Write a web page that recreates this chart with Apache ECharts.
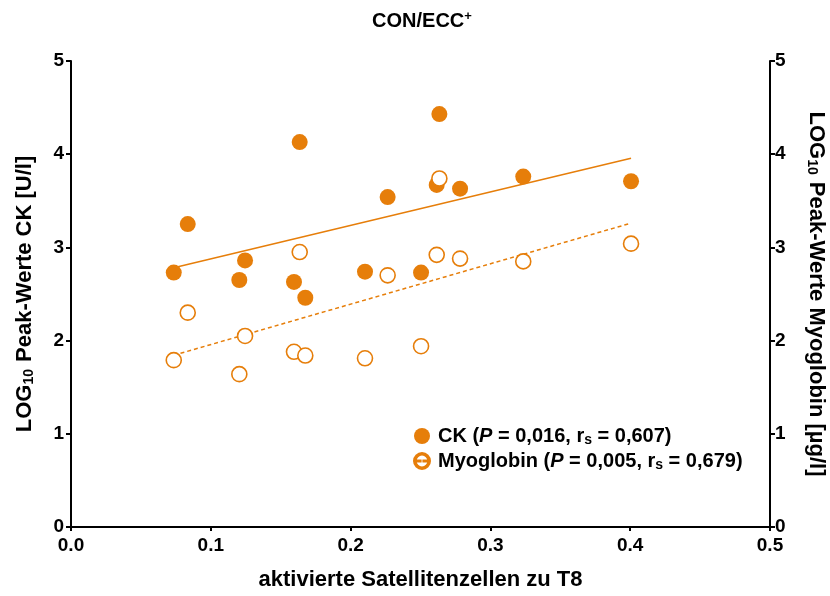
<!DOCTYPE html>
<html><head><meta charset="utf-8">
<script src="https://cdn.jsdelivr.net/npm/echarts@6/dist/echarts.min.js"></script>
<style>html,body{margin:0;padding:0;background:#fff}#c{width:830px;height:596px}</style>
</head><body><div id="c"></div>
<script>
// activated satellite cells at T8 (x)
const xValues = [0.0735,0.0835,0.1245,0.1204,0.1636,0.1595,0.1676,0.2103,0.2265,0.2504,0.2635,0.2616,0.2783,0.3235,0.4006];
// LOG10 peak CK
const ckValues = [2.73,3.25,2.86,2.65,4.13,2.63,2.46,2.74,3.54,2.73,4.43,3.67,3.63,3.76,3.71];
// LOG10 peak myoglobin
const myoValues = [1.79,2.30,2.05,1.64,2.95,1.88,1.84,1.81,2.70,1.94,3.74,2.92,2.88,2.85,3.04];
const xTicks = [0,0.1,0.2,0.3,0.4,0.5];
const yTicks = [0,1,2,3,4,5];
const seriesNames = ['CK','Myoglobin'];
const stats = {CK:['0,016','0,607'], Myoglobin:['0,005','0,679']};

const ORANGE = '#E67E0A';
const FONT = '"Liberation Sans",Arial,Helvetica,sans-serif';

function fit(xs, ys){
  const n = xs.length;
  const mx = xs.reduce((a,b)=>a+b,0)/n, my = ys.reduce((a,b)=>a+b,0)/n;
  let sxy=0, sxx=0;
  for(let i=0;i<n;i++){sxy+=(xs[i]-mx)*(ys[i]-my); sxx+=(xs[i]-mx)**2;}
  const b = sxy/sxx, a = my-b*mx;
  const x0 = Math.min(...xs), x1 = Math.max(...xs);
  return [[x0,a+b*x0],[x1,a+b*x1]];
}
const ckPts = xValues.map((x,i)=>[x,ckValues[i]]);
const myoPts = xValues.map((x,i)=>[x,myoValues[i]]);

const chart = echarts.init(document.getElementById('c'), null, {renderer:'canvas'});
const nameRich = {
  b:{fontWeight:'bold', fontSize:22, color:'#000', fontFamily:FONT},
  sub:{fontWeight:'bold', fontSize:14, color:'#000', padding:[9,1,0,0], fontFamily:FONT}
};
function yAxisCfg(pos, name, rot, margin){
  return {
    type:'value', position:pos, min:yTicks[0], max:yTicks[yTicks.length-1], interval:1,
    splitLine:{show:false},
    axisLine:{show:true, onZero:false, lineStyle:{color:'#000', width:2}},
    axisTick:{show:true, length:5, lineStyle:{color:'#000', width:2}},
    axisLabel:{color:'#000', fontWeight:'bold', fontSize:19, fontFamily:FONT, margin:margin},
    name:name, nameLocation:'middle', nameGap:35, nameRotate:rot,
    nameTextStyle:{color:'#000', fontWeight:'bold', fontSize:22, fontFamily:FONT, rich:nameRich}
  };
}
const richLegend = {
  b:{fontWeight:'bold', fontSize:20, color:'#000', fontFamily:FONT},
  i:{fontWeight:'bold', fontStyle:'italic', fontSize:20, color:'#000', fontFamily:FONT},
  sub:{fontWeight:'bold', fontSize:14, color:'#000', padding:[8,0,0,0], fontFamily:FONT},
  p:{width:3}
};
const ringIcon = 'path://M8,0 A8,8 0 1,1 8,16 A8,8 0 1,1 8,0 Z M8,1.6 A6.4,6.4 0 1,0 8,14.4 A6.4,6.4 0 1,0 8,1.6 Z M3.4,7.4 h3.2 v1.2 h-3.2 Z M9.4,7.4 h3.2 v1.2 h-3.2 Z';
chart.setOption({
  animation:false,
  backgroundColor:'#fff',
  title:{
    text:'{t|CON/ECC}{s|+}', left:417, textAlign:'center', top:5,
    textStyle:{rich:{
      t:{fontWeight:'bold', fontSize:20, color:'#000', fontFamily:FONT},
      s:{fontWeight:'bold', fontSize:13, color:'#000', padding:[0,0,9,0], fontFamily:FONT}}}
  },
  grid:{left:71, right:60, top:61, bottom:69, containLabel:false, outerBoundsMode:'none'},
  legend:{
    orient:'vertical', left:408, top:421, itemGap:4, itemWidth:16, itemHeight:16,
    data:[
      {name:seriesNames[0], icon:'circle', itemStyle:{color:ORANGE}},
      {name:seriesNames[1], icon:ringIcon, itemStyle:{color:ORANGE}}
    ],
    formatter:function(name){
      const s = stats[name];
      return '{p|}{b|'+name+' (}{i|P}{b| = '+s[0]+', r}{sub|s}{b| = '+s[1]+')}';
    },
    textStyle:{rich:richLegend}
  },
  xAxis:{
    type:'value', min:xTicks[0], max:xTicks[xTicks.length-1], interval:0.1,
    splitLine:{show:false},
    axisLine:{show:true, onZero:false, lineStyle:{color:'#000', width:2}},
    axisTick:{show:true, length:4, lineStyle:{color:'#000', width:2}},
    axisLabel:{color:'#000', fontWeight:'bold', fontSize:19, fontFamily:FONT, margin:9, formatter:v=>v.toFixed(1)},
    name:'aktivierte Satellitenzellen zu T8', nameLocation:'middle', nameGap:42,
    nameTextStyle:{color:'#000', fontWeight:'bold', fontSize:22, fontFamily:FONT}
  },
  yAxis:[
    yAxisCfg('left', '{b|LOG}{sub|10}{b| Peak-Werte CK [U/l]}', 90, 7),
    yAxisCfg('right', '{b|LOG}{sub|10}{b| Peak-Werte Myoglobin [µg/l]}', -90, 5)
  ],
  series:[
    {name:seriesNames[0], type:'scatter', yAxisIndex:0, data:ckPts, symbol:'circle', symbolSize:16,
     itemStyle:{color:ORANGE, opacity:1}, z:3},
    {name:seriesNames[1], type:'scatter', yAxisIndex:1, data:myoPts, symbol:'circle', symbolSize:15,
     itemStyle:{color:'#fff', borderColor:ORANGE, borderWidth:1.6, opacity:1}, z:3},
    {name:'CK fit', type:'line', yAxisIndex:0, data:fit(xValues, ckValues), showSymbol:false, symbol:'none',
     lineStyle:{color:ORANGE, width:1.5}, z:2, silent:true},
    {name:'Myo fit', type:'line', yAxisIndex:1, data:fit(xValues, myoValues), showSymbol:false, symbol:'none',
     lineStyle:{color:ORANGE, width:1.5, type:[4,3]}, z:2, silent:true}
  ]
});
</script></body></html>
